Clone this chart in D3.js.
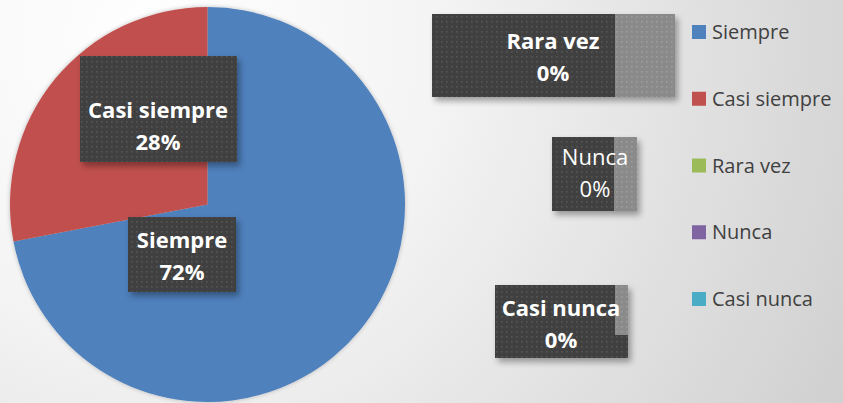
<!DOCTYPE html>
<meta charset="utf-8">
<style>
body { margin: 0; }
svg { font-family: "Open Sans", sans-serif; display: block; }
</style>
<body>
<script src="https://cdn.jsdelivr.net/npm/d3@7"></script>
<script>

var categories = ["Siempre", "Casi siempre", "Rara vez", "Nunca", "Casi nunca"];
var values = [72, 28, 0, 0, 0];
var colors = ["#4f81bd", "#c0504d", "#9bbb59", "#8064a2", "#4bacc6"];

// label boxes: [x, y, w, h, lightFrom, lightH, textX, textY, bold]
var labelBoxes = [
  [128, 217, 108, 75, null, null, 182, 248, true],
  [80, 56, 157, 106, null, null, 158, 118, true],
  [432, 14, 243, 83, 615, 83, 553, 49, true],
  [552, 137, 85, 74, 614, 74, 595, 165, false],
  [495, 285, 133, 73, 615, 50, 561, 316, true]
];

var width = 843, height = 403;
var svg = d3.select("body").append("svg")
  .attr("width", width)
  .attr("height", height);

var defs = svg.append("defs");
var bg = defs.append("radialGradient").attr("id", "bg")
  .attr("gradientUnits", "userSpaceOnUse")
  .attr("cx", 150).attr("cy", 40).attr("r", 820);
bg.append("stop").attr("offset", "0%").attr("stop-color", "#ffffff");
bg.append("stop").attr("offset", "35%").attr("stop-color", "#f4f4f4");
bg.append("stop").attr("offset", "100%").attr("stop-color", "#cdcdcd");

var shadow = defs.append("filter").attr("id", "shadow")
  .attr("x", "-10%").attr("y", "-10%").attr("width", "130%").attr("height", "130%");
shadow.append("feDropShadow").attr("dx", 3).attr("dy", 4).attr("stdDeviation", 3)
  .attr("flood-color", "#000").attr("flood-opacity", 0.35);

var pieShadow = defs.append("filter").attr("id", "pieShadow")
  .attr("x", "-10%").attr("y", "-10%").attr("width", "120%").attr("height", "120%");
pieShadow.append("feDropShadow").attr("dx", 0).attr("dy", 0).attr("stdDeviation", 2)
  .attr("flood-color", "#000").attr("flood-opacity", 0.25);

function dots(id, base, dot) {
  var p = defs.append("pattern").attr("id", id)
    .attr("patternUnits", "userSpaceOnUse").attr("width", 5).attr("height", 5);
  p.append("rect").attr("width", 5).attr("height", 5).attr("fill", base);
  p.append("rect").attr("x", 1).attr("y", 1).attr("width", 1.6).attr("height", 1.6).attr("fill", dot);
}
dots("darkDots", "#404040", "#555555");
dots("lightDots", "#8a8a8a", "#9c9c9c");

svg.append("rect").attr("width", width).attr("height", height).attr("fill", "url(#bg)");

var pie = d3.pie().sort(null).value(function (d) { return d; });
var arc = d3.arc().innerRadius(0).outerRadius(197.5);

var arcs = pie(values);
svg.append("g")
  .attr("transform", "translate(207.5,204.5)")
  .attr("filter", "url(#pieShadow)")
  .selectAll("path")
  .data(arcs.filter(function (d) { return d.value > 0; }))
  .enter().append("path")
  .attr("d", arc)
  .attr("fill", function (d) { return colors[d.index]; });

// data labels
var lab = svg.selectAll("g.lab")
  .data(categories)
  .enter().append("g").attr("class", "lab");

lab.append("rect")
  .attr("x", function (d, i) { return labelBoxes[i][0]; })
  .attr("y", function (d, i) { return labelBoxes[i][1]; })
  .attr("width", function (d, i) { return labelBoxes[i][2]; })
  .attr("height", function (d, i) { return labelBoxes[i][3]; })
  .attr("fill", "url(#darkDots)")
  .attr("filter", "url(#shadow)");

lab.filter(function (d, i) { return labelBoxes[i][4] != null; })
  .append("rect")
  .attr("x", function (d) { return labelBoxes[categories.indexOf(d)][4]; })
  .attr("y", function (d) { return labelBoxes[categories.indexOf(d)][1]; })
  .attr("width", function (d) { var b = labelBoxes[categories.indexOf(d)]; return b[0] + b[2] - b[4]; })
  .attr("height", function (d) { return labelBoxes[categories.indexOf(d)][5]; })
  .attr("fill", "url(#lightDots)");

lab.append("text")
  .attr("x", function (d, i) { return labelBoxes[i][6]; })
  .attr("y", function (d, i) { return labelBoxes[i][7]; })
  .attr("text-anchor", "middle")
  .attr("fill", "#fff")
  .attr("font-size", 22)
  .attr("font-weight", function (d, i) { return labelBoxes[i][8] ? "bold" : "normal"; })
  .text(function (d) { return d; });

lab.append("text")
  .attr("x", function (d, i) { return labelBoxes[i][6]; })
  .attr("y", function (d, i) { return labelBoxes[i][7] + 32; })
  .attr("text-anchor", "middle")
  .attr("fill", "#fff")
  .attr("font-size", 22)
  .attr("font-weight", function (d, i) { return labelBoxes[i][8] ? "bold" : "normal"; })
  .text(function (d, i) { return values[i] + "%"; });

// legend
var ly = d3.scalePoint().domain(categories).range([32, 299]);
var leg = svg.selectAll("g.leg")
  .data(categories)
  .enter().append("g").attr("class", "leg")
  .attr("transform", function (d) { return "translate(692," + ly(d) + ")"; });
leg.append("rect").attr("x", 0).attr("y", -7).attr("width", 14).attr("height", 14)
  .attr("fill", function (d, i) { return colors[i]; });
leg.append("text").attr("x", 20).attr("y", 7)
  .attr("font-size", 20).attr("fill", "#404040")
  .text(function (d) { return d; });

</script>
